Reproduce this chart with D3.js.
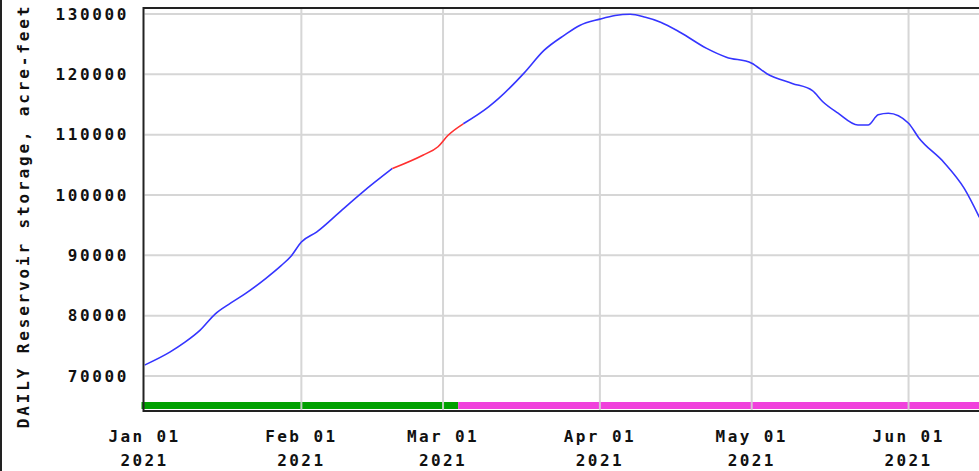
<!DOCTYPE html>
<html>
<head>
<meta charset="utf-8">
<script src="https://cdn.jsdelivr.net/npm/d3@7"></script>
<style>
  html, body { margin: 0; padding: 0; background: #fff; overflow: hidden; }
  text { font-family: "DejaVu Sans Mono", "Liberation Mono", monospace; font-weight: bold; fill: #111; }
</style>
</head>
<body>
<script>
// Daily reservoir storage, acre-feet
var dates = ["2021-01-01","2021-01-06","2021-01-09","2021-01-12","2021-01-15","2021-01-18",
  "2021-01-21","2021-01-25","2021-01-28","2021-01-30","2021-02-01","2021-02-04","2021-02-09",
  "2021-02-13","2021-02-19","2021-02-25","2021-02-28","2021-03-02","2021-03-05","2021-03-10",
  "2021-03-12","2021-03-17","2021-03-21","2021-03-25","2021-03-28","2021-04-01","2021-04-04",
  "2021-04-07","2021-04-10","2021-04-13","2021-04-17","2021-04-22","2021-04-26","2021-05-01",
  "2021-05-04","2021-05-09","2021-05-13","2021-05-15","2021-05-18","2021-05-22","2021-05-24",
  "2021-05-26","2021-05-28","2021-06-01","2021-06-03","2021-06-08","2021-06-12","2021-06-15"];
var storage = [71800,73950,75600,77600,80300,82070,
  83700,86200,88300,89900,92200,93850,97500,
  100400,104400,106600,108000,109900,111800,114600,
  116000,120200,124000,126500,128100,129150,129750,
  129950,129450,128650,126900,124350,122850,121850,
  120100,118500,117300,115500,113600,111600,111600,
  113300,113550,111900,109500,105400,101100,96300];

// red part of the line
var redStart = "2021-02-19";
var redEnd = "2021-03-05";

// status bar periods along the bottom
var periodStarts = ["2021-01-01", "2021-03-04"];
var periodEnds = ["2021-03-04", "2021-07-01"];
var periodColors = ["#00a000", "#f040dc"];

var monthTicks = ["2021-01-01","2021-02-01","2021-03-01","2021-04-01","2021-05-01","2021-06-01"];
var yTicks = [70000, 80000, 90000, 100000, 110000, 120000, 130000];

var width = 979, height = 471;
var plotLeft = 144.5, plotTop = 8, plotBottom = 411;
var pxPerDay = 5.06;

var parse = d3.utcParse("%Y-%m-%d");
var data = dates.map(function(d, i) { return { date: parse(d), value: storage[i] }; });

var x = d3.scaleUtc()
  .domain([parse("2021-01-01"), parse("2021-07-01")])
  .range([plotLeft, plotLeft + 181 * pxPerDay]);
var y = d3.scaleLinear().domain([70000, 130000]).range([376, 14]);

var svg = d3.select("body").append("svg")
  .attr("width", width)
  .attr("height", height);

svg.append("defs").append("clipPath")
  .attr("id", "plotclip")
  .append("rect")
    .attr("x", plotLeft).attr("y", plotTop)
    .attr("width", width - plotLeft).attr("height", plotBottom - plotTop);

// status bars
svg.append("g")
  .selectAll("rect")
  .data(periodStarts)
  .enter().append("rect")
    .attr("x", function(d, i) { return i === 0 ? x(parse(d)) - 3 : x(parse(d)); })
    .attr("y", 402)
    .attr("width", function(d, i) { return x(parse(periodEnds[i])) - x(parse(d)) + (i === 0 ? 3 : 0); })
    .attr("height", 7)
    .attr("fill", function(d, i) { return periodColors[i]; });

// grid
var grid = svg.append("g").attr("stroke", "#d2d2d2").attr("stroke-width", 2).attr("opacity", 0.9);
grid.selectAll("line.h")
  .data(yTicks)
  .enter().append("line")
    .attr("x1", plotLeft).attr("x2", width)
    .attr("y1", function(d) { return y(d); })
    .attr("y2", function(d) { return y(d); });
grid.selectAll("line.v")
  .data(monthTicks.slice(1))
  .enter().append("line")
    .attr("x1", function(d) { return x(parse(d)); })
    .attr("x2", function(d) { return x(parse(d)); })
    .attr("y1", plotTop).attr("y2", plotBottom);

// line, blue with a red stretch
var line = d3.line()
  .curve(d3.curveMonotoneX)
  .x(function(d) { return x(d.date); })
  .y(function(d) { return y(d.value); });
var rs = parse(redStart), re = parse(redEnd);
var lines = svg.append("g").attr("clip-path", "url(#plotclip)").attr("fill", "none").attr("stroke-width", 1.6);
lines.append("path")
  .datum(data.filter(function(d) { return d.date <= rs; }))
  .attr("stroke", "#3535ff").attr("d", line);
lines.append("path")
  .datum(data.filter(function(d) { return d.date >= re; }))
  .attr("stroke", "#3535ff").attr("d", line);
lines.append("path")
  .datum(data.filter(function(d) { return d.date >= rs && d.date <= re; }))
  .attr("stroke", "#ff3030").attr("d", line);

// frame
var frame = svg.append("g").attr("stroke", "#222").attr("stroke-width", 2);
frame.append("line").attr("x1", plotLeft - 1).attr("x2", width).attr("y1", plotTop).attr("y2", plotTop);
frame.append("line").attr("x1", plotLeft - 1).attr("x2", width).attr("y1", plotBottom).attr("y2", plotBottom);
frame.append("line").attr("x1", plotLeft - 1).attr("x2", plotLeft - 1).attr("y1", plotTop - 1).attr("y2", plotBottom + 1);
svg.append("line").attr("x1", 1).attr("x2", 1).attr("y1", 0).attr("y2", height)
  .attr("stroke", "#222").attr("stroke-width", 2);

// y tick labels
svg.append("g")
  .selectAll("text")
  .data(yTicks)
  .enter().append("text")
    .attr("x", 129)
    .attr("y", function(d) { return y(d); })
    .attr("dy", "0.36em")
    .attr("text-anchor", "end")
    .attr("font-size", 16)
    .attr("letter-spacing", 2.6)
    .text(function(d) { return d; });

// x tick labels
var fmt = d3.utcFormat("%b %d");
var xl = svg.append("g")
  .selectAll("g")
  .data(monthTicks)
  .enter().append("g")
    .attr("transform", function(d) { return "translate(" + x(parse(d)) + ",0)"; });
xl.append("text")
  .attr("y", 442)
  .attr("text-anchor", "middle")
  .attr("font-size", 16)
  .attr("letter-spacing", 2.4)
  .text(function(d) { return fmt(parse(d)); });
xl.append("text")
  .attr("y", 466)
  .attr("text-anchor", "middle")
  .attr("font-size", 16)
  .attr("letter-spacing", 2.4)
  .text("2021");

// y axis title
svg.append("text")
  .attr("transform", "translate(29,216) rotate(-90)")
  .attr("text-anchor", "middle")
  .attr("font-size", 16)
  .attr("letter-spacing", 2.85)
  .text("DAILY Reservoir storage, acre-feet");
</script>
</body>
</html>
